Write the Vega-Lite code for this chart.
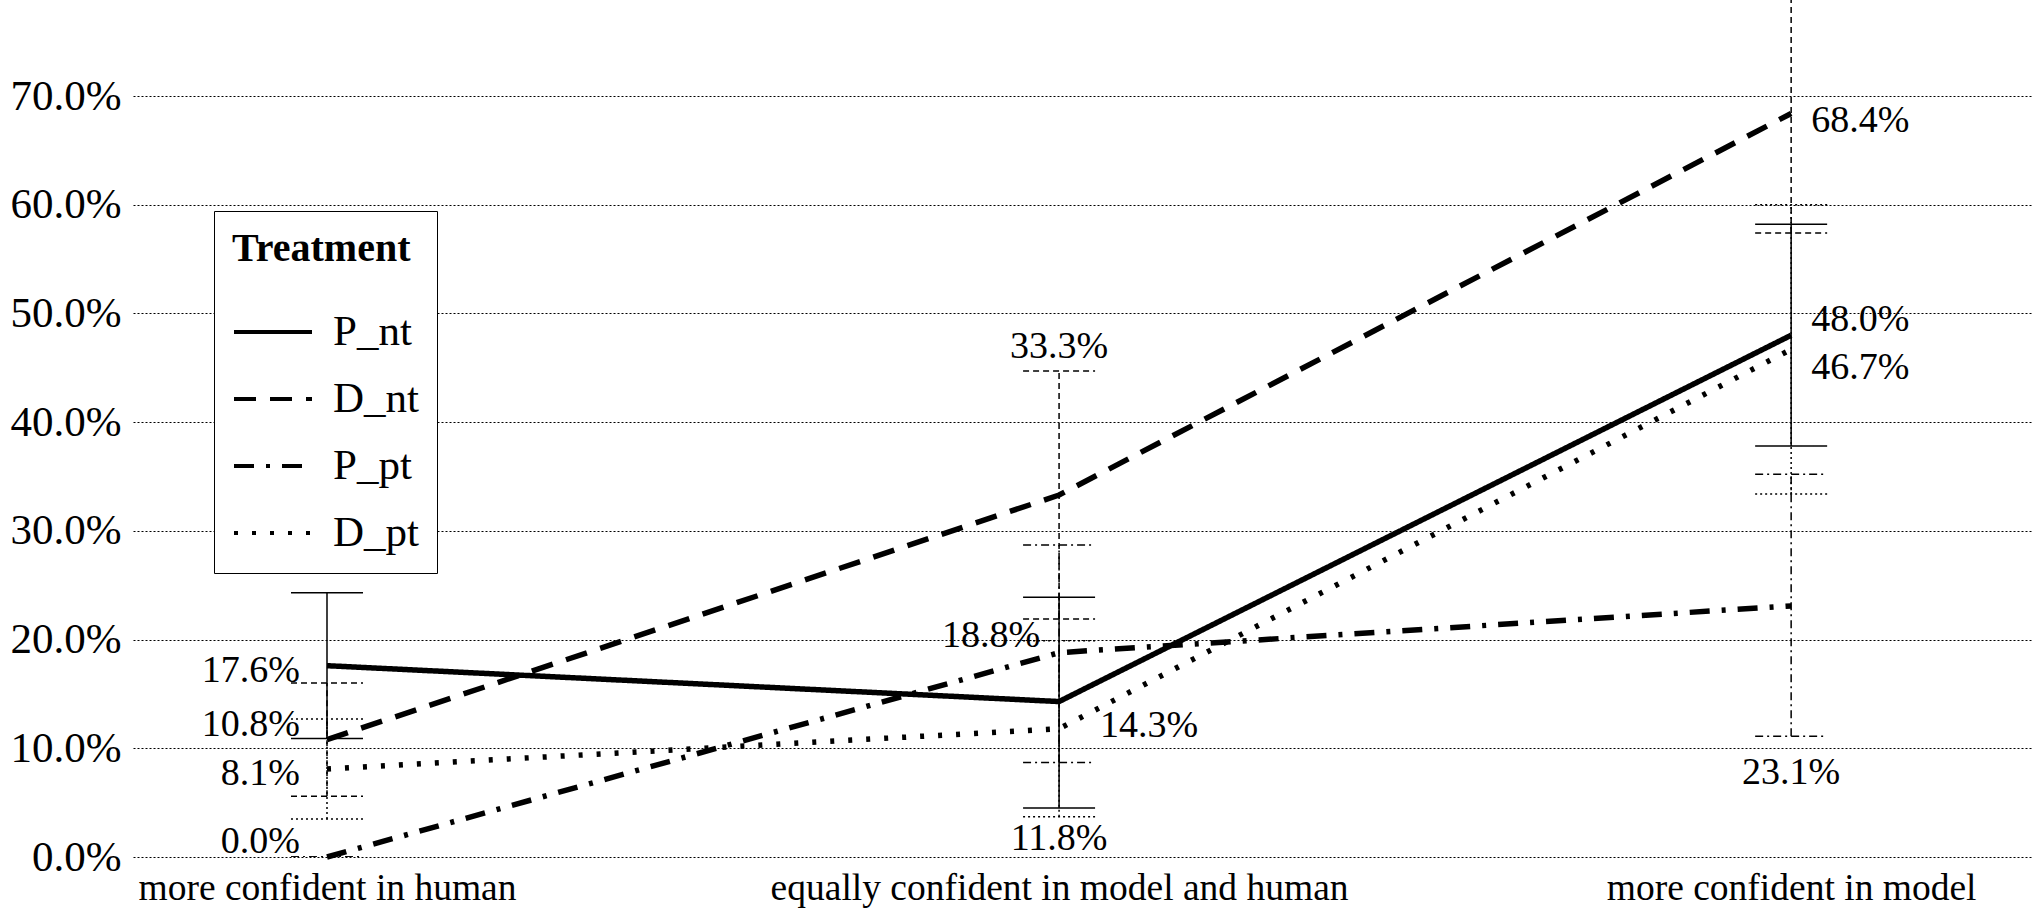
{
  "$schema": "https://vega.github.io/schema/vega-lite/v6.json",
  "width": 1899,
  "height": 857,
  "autosize": {"type": "none"},
  "padding": {"left": 133, "top": 0, "right": 0, "bottom": 54},
  "background": "white",
  "config": {
    "view": {"stroke": null},
    "font": "Liberation Serif",
    "text": {"font": "Liberation Serif", "fontSize": 38, "color": "black", "baseline": "middle"},
    "axis": {"labelFont": "Liberation Serif", "labelColor": "black", "domain": false, "ticks": false, "title": null}
  },
  "data": {
    "values": [
      {"cat": 0, "series": "P_nt", "value": 0.176, "lo": 0.109, "hi": 0.243},
      {"cat": 0, "series": "D_nt", "value": 0.108, "lo": 0.056, "hi": 0.160},
      {"cat": 0, "series": "P_pt", "value": 0.0, "lo": 0.0, "hi": 0.0},
      {"cat": 0, "series": "D_pt", "value": 0.081, "lo": 0.035, "hi": 0.127},
      {"cat": 1, "series": "P_nt", "value": 0.143, "lo": 0.045, "hi": 0.239},
      {"cat": 1, "series": "D_nt", "value": 0.333, "lo": 0.219, "hi": 0.447},
      {"cat": 1, "series": "P_pt", "value": 0.188, "lo": 0.087, "hi": 0.287},
      {"cat": 1, "series": "D_pt", "value": 0.118, "lo": 0.037, "hi": 0.199},
      {"cat": 2, "series": "P_nt", "value": 0.480, "lo": 0.378, "hi": 0.582},
      {"cat": 2, "series": "D_nt", "value": 0.684, "lo": 0.574, "hi": 0.794},
      {"cat": 2, "series": "P_pt", "value": 0.231, "lo": 0.111, "hi": 0.352},
      {"cat": 2, "series": "D_pt", "value": 0.467, "lo": 0.334, "hi": 0.600}
    ]
  },
  "encoding": {
    "x": {
      "field": "cat",
      "type": "quantitative",
      "scale": {"domain": [-0.265, 2.329], "nice": false, "zero": false},
      "axis": {
        "values": [0, 1, 2],
        "grid": false,
        "labelFontSize": 37.5,
        "labelPadding": 12,
        "labelLimit": 0,
        "labelExpr": "datum.value == 0 ? 'more confident in human' : datum.value == 1 ? 'equally confident in model and human' : 'more confident in model'"
      }
    }
  },
  "layer": [
    {
      "mark": {"type": "rule", "color": "black", "strokeWidth": 1.5, "clip": true},
      "encoding": {
        "y": {
          "field": "lo",
          "type": "quantitative",
          "scale": {"domain": [0, 0.7884], "nice": false},
          "axis": {
            "values": [0, 0.1, 0.2, 0.3, 0.4, 0.5, 0.6, 0.7],
            "format": ".1%",
            "labelFontSize": 43,
            "labelPadding": 12,
            "grid": true,
            "gridColor": "black",
            "gridDash": [2, 2],
            "gridWidth": 1.2
          }
        },
        "y2": {"field": "hi"},
        "strokeDash": {
          "field": "series",
          "type": "nominal",
          "scale": {"domain": ["P_nt", "D_nt", "P_pt", "D_pt"], "range": [[1, 0], [6, 4], [8, 4, 2, 4], [2, 3]]},
          "legend": null
        }
      }
    },
    {
      "mark": {"type": "point", "shape": "M-1,0L1,0", "size": 5184, "filled": false, "color": "black", "strokeWidth": 1.5, "opacity": 1, "clip": true},
      "encoding": {
        "y": {"field": "lo", "type": "quantitative"},
        "strokeDash": {
          "field": "series",
          "type": "nominal",
          "scale": {"domain": ["P_nt", "D_nt", "P_pt", "D_pt"], "range": [[1, 0], [6, 4], [8, 4, 2, 4], [2, 3]]},
          "legend": null
        }
      }
    },
    {
      "mark": {"type": "point", "shape": "M-1,0L1,0", "size": 5184, "filled": false, "color": "black", "strokeWidth": 1.5, "opacity": 1, "clip": true},
      "encoding": {
        "y": {"field": "hi", "type": "quantitative"},
        "strokeDash": {
          "field": "series",
          "type": "nominal",
          "scale": {"domain": ["P_nt", "D_nt", "P_pt", "D_pt"], "range": [[1, 0], [6, 4], [8, 4, 2, 4], [2, 3]]},
          "legend": null
        }
      }
    },
    {
      "mark": {"type": "line", "color": "black", "strokeWidth": 5.5, "strokeCap": "butt"},
      "encoding": {
        "y": {"field": "value", "type": "quantitative"},
        "detail": {"field": "series"},
        "strokeDash": {
          "field": "series",
          "type": "nominal",
          "scale": {"domain": ["P_nt", "D_nt", "P_pt", "D_pt"], "range": [[1, 0], [22, 14], [20, 12, 4, 12], [4, 14]]},
          "legend": {
            "title": "Treatment",
            "orient": "none",
            "legendX": 81,
            "legendY": 211,
            "titleFont": "Liberation Serif",
            "titleFontSize": 40,
            "titleFontWeight": "bold",
            "titleColor": "black",
            "titlePadding": 22,
            "labelFont": "Liberation Serif",
            "labelFontSize": 43,
            "labelColor": "black",
            "labelOffset": 19,
            "symbolSize": 6084,
            "symbolStrokeWidth": 4,
            "symbolStrokeColor": "black",
            "rowPadding": 4,
            "padding": 18,
            "strokeColor": "black",
            "fillColor": "white"
          }
        }
      }
    },
    {
      "transform": [{"filter": "datum.cat == 0 && (datum.series == 'P_nt' || datum.series == 'D_pt')"}],
      "mark": {"type": "text", "align": "right", "dx": -27, "dy": 5},
      "encoding": {"y": {"field": "value", "type": "quantitative"}, "text": {"field": "value", "format": ".1%"}}
    },
    {
      "transform": [{"filter": "datum.cat == 0 && (datum.series == 'D_nt' || datum.series == 'P_pt')"}],
      "mark": {"type": "text", "align": "right", "dx": -27, "dy": -15},
      "encoding": {"y": {"field": "value", "type": "quantitative"}, "text": {"field": "value", "format": ".1%"}}
    },
    {
      "transform": [{"filter": "datum.cat == 1 && datum.series == 'D_nt'"}],
      "mark": {"type": "text", "align": "center", "dy": -24},
      "encoding": {"y": {"field": "hi", "type": "quantitative"}, "text": {"field": "value", "format": ".1%"}}
    },
    {
      "transform": [{"filter": "datum.cat == 1 && datum.series == 'D_pt'"}],
      "mark": {"type": "text", "align": "center", "dy": 22},
      "encoding": {"y": {"field": "lo", "type": "quantitative"}, "text": {"field": "value", "format": ".1%"}}
    },
    {
      "transform": [{"filter": "datum.cat == 2 && datum.series == 'P_pt'"}],
      "mark": {"type": "text", "align": "center", "dy": 37},
      "encoding": {"y": {"field": "lo", "type": "quantitative"}, "text": {"field": "value", "format": ".1%"}}
    },
    {
      "transform": [{"filter": "datum.cat == 1 && datum.series == 'P_pt'"}],
      "mark": {"type": "text", "align": "right", "dx": -19, "dy": -17},
      "encoding": {"y": {"field": "value", "type": "quantitative"}, "text": {"field": "value", "format": ".1%"}}
    },
    {
      "transform": [{"filter": "datum.cat == 1 && datum.series == 'P_nt'"}],
      "mark": {"type": "text", "align": "left", "dx": 41, "dy": 24},
      "encoding": {"y": {"field": "value", "type": "quantitative"}, "text": {"field": "value", "format": ".1%"}}
    },
    {
      "transform": [{"filter": "datum.cat == 2 && datum.series == 'D_nt'"}],
      "mark": {"type": "text", "align": "left", "dx": 20, "dy": 8},
      "encoding": {"y": {"field": "value", "type": "quantitative"}, "text": {"field": "value", "format": ".1%"}}
    },
    {
      "transform": [{"filter": "datum.cat == 2 && datum.series == 'P_nt'"}],
      "mark": {"type": "text", "align": "left", "dx": 20, "dy": -15},
      "encoding": {"y": {"field": "value", "type": "quantitative"}, "text": {"field": "value", "format": ".1%"}}
    },
    {
      "transform": [{"filter": "datum.cat == 2 && datum.series == 'D_pt'"}],
      "mark": {"type": "text", "align": "left", "dx": 20, "dy": 19},
      "encoding": {"y": {"field": "value", "type": "quantitative"}, "text": {"field": "value", "format": ".1%"}}
    }
  ],
  "resolve": {"scale": {"strokeDash": "independent"}}
}
